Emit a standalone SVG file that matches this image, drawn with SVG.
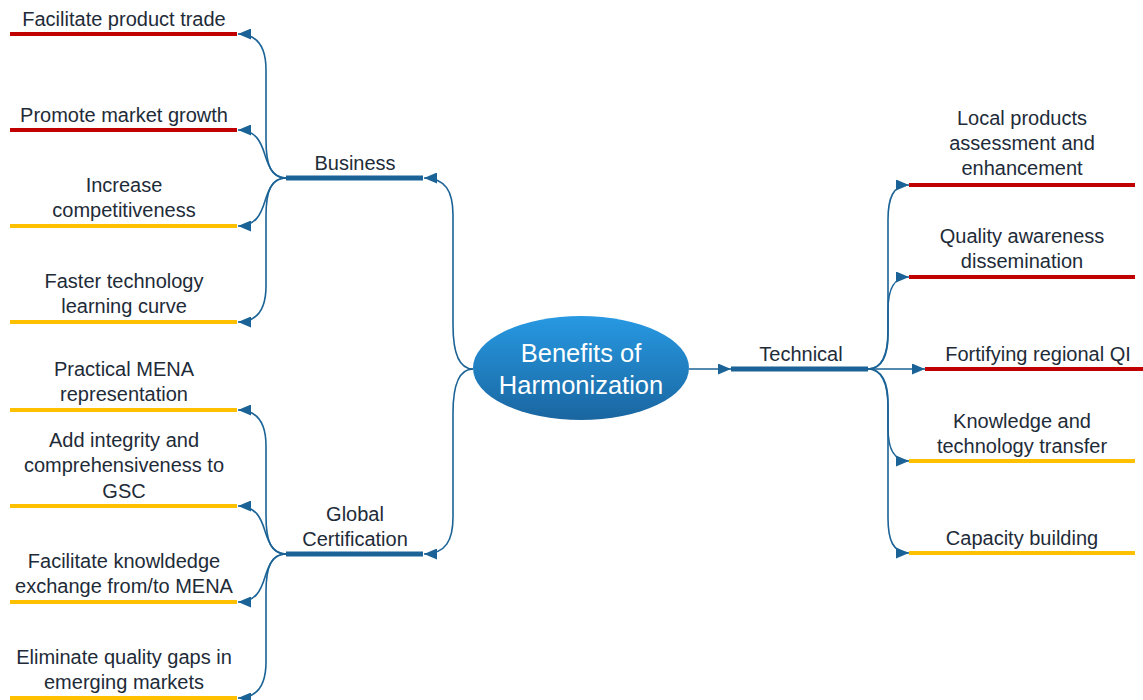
<svg xmlns="http://www.w3.org/2000/svg" width="1143" height="700" viewBox="0 0 1143 700">
<style>
.t{font-family:"Liberation Sans",Arial,sans-serif;font-size:20px;fill:#1e2b38;text-anchor:middle}
.ct{font-family:"Liberation Sans",Arial,sans-serif;font-size:25.5px;fill:#ffffff;text-anchor:middle}
.red{stroke:#c00000;stroke-width:4;fill:none}
.gold{stroke:#ffc000;stroke-width:4;fill:none}
.br{stroke:#1b6396;stroke-width:5;fill:none}
.c{stroke:#1b6396;stroke-width:1.6;fill:none;marker-end:url(#ah)}
</style>
<defs>
<marker id="ah" markerUnits="userSpaceOnUse" markerWidth="13" markerHeight="11" refX="13" refY="5.5" orient="auto">
<path d="M0,0 L13,5.5 L0,11 z" fill="#1b6396"/>
</marker>
<linearGradient id="eg" x1="0" y1="0" x2="0" y2="1">
<stop offset="0" stop-color="#2799e2"/>
<stop offset="1" stop-color="#1a66a0"/>
</linearGradient>
</defs>
<rect width="1143" height="700" fill="#ffffff"/>
<g id="connectors">
<path class="c" d="M473,369 C458,369 453,352 453,325 L453,215 C453,192 446,178 424,178"/>
<path class="c" d="M473,369 C458,369 453,386 453,413 L453,517 C453,540 446,554 424,554"/>
<path class="c" d="M689,369 L731,369"/>
<path class="c" d="M286,178 C271,178 266,165 266,140 L266,70 C266,48 258,34 238,34"/>
<path class="c" d="M286,178 C272,178 268,164 265,155 C261,142 256,130 238,130"/>
<path class="c" d="M286,178 C272,178 268,192 265,201 C261,214 256,226 238,226"/>
<path class="c" d="M286,178 C271,178 266,191 266,216 L266,286 C266,308 258,322 238,322"/>
<path class="c" d="M286,554 C271,554 266,541 266,516 L266,446 C266,424 258,410 238,410"/>
<path class="c" d="M286,554 C272,554 268,540 265,531 C261,518 256,506 238,506"/>
<path class="c" d="M286,554 C272,554 268,568 265,577 C261,590 256,602 238,602"/>
<path class="c" d="M286,554 C271,554 266,567 266,592 L266,662 C266,684 258,698 238,698"/>
<path class="c" d="M868,369 C882,369 888,355 888,330 L888,220 C888,198 893,185 909,185"/>
<path class="c" d="M868,369 C882,369 888,355 888,335 L888,310 C888,290 893,277 909,277"/>
<path class="c" d="M868,369 L925,369"/>
<path class="c" d="M868,369 C882,369 888,383 888,403 L888,428 C888,448 893,461 909,461"/>
<path class="c" d="M868,369 C882,369 888,383 888,408 L888,518 C888,540 893,553 909,553"/>
</g>
<g id="center">
<ellipse cx="581" cy="368" rx="108" ry="52" fill="url(#eg)"/>
<text class="ct" x="581" y="362">Benefits of</text>
<text class="ct" x="581" y="394">Harmonization</text>
</g>
<g id="business">
<line class="br" x1="286" y1="178" x2="423" y2="178"/>
<text class="t" x="355" y="170">Business</text>
</g>
<g id="global-certification">
<line class="br" x1="286" y1="554" x2="423" y2="554"/>
<text class="t" x="355" y="521">Global</text>
<text class="t" x="355" y="546">Certification</text>
</g>
<g id="technical">
<line class="br" x1="731" y1="369" x2="868" y2="369"/>
<text class="t" x="801" y="361">Technical</text>
</g>
<g id="facilitate-product-trade">
<line class="red" x1="10" y1="34" x2="237" y2="34"/>
<text class="t" x="124" y="26">Facilitate product trade</text>
</g>
<g id="promote-market-growth">
<line class="red" x1="10" y1="130" x2="237" y2="130"/>
<text class="t" x="124" y="122">Promote market growth</text>
</g>
<g id="increase-competitiveness">
<line class="gold" x1="10" y1="226" x2="237" y2="226"/>
<text class="t" x="124" y="192">Increase</text>
<text class="t" x="124" y="217">competitiveness</text>
</g>
<g id="faster-technology">
<line class="gold" x1="10" y1="322" x2="237" y2="322"/>
<text class="t" x="124" y="288">Faster technology</text>
<text class="t" x="124" y="313">learning curve</text>
</g>
<g id="practical-mena">
<line class="gold" x1="10" y1="410" x2="237" y2="410"/>
<text class="t" x="124" y="376">Practical MENA</text>
<text class="t" x="124" y="401">representation</text>
</g>
<g id="add-integrity">
<line class="gold" x1="10" y1="506" x2="237" y2="506"/>
<text class="t" x="124" y="447">Add integrity and</text>
<text class="t" x="124" y="472">comprehensiveness to</text>
<text class="t" x="124" y="498">GSC</text>
</g>
<g id="facilitate-knowledge">
<line class="gold" x1="10" y1="602" x2="237" y2="602"/>
<text class="t" x="124" y="568">Facilitate knowldedge</text>
<text class="t" x="124" y="593">exchange from/to MENA</text>
</g>
<g id="eliminate-quality-gaps">
<line class="gold" x1="10" y1="698" x2="237" y2="698"/>
<text class="t" x="124" y="664">Eliminate quality gaps in</text>
<text class="t" x="124" y="689">emerging markets</text>
</g>
<g id="local-products">
<line class="red" x1="909" y1="185" x2="1135" y2="185"/>
<text class="t" x="1022" y="125">Local products</text>
<text class="t" x="1022" y="150">assessment and</text>
<text class="t" x="1022" y="175">enhancement</text>
</g>
<g id="quality-awareness">
<line class="red" x1="909" y1="277" x2="1135" y2="277"/>
<text class="t" x="1022" y="243">Quality awareness</text>
<text class="t" x="1022" y="268">dissemination</text>
</g>
<g id="fortifying-regional-qi">
<line class="red" x1="925" y1="369" x2="1143" y2="369"/>
<text class="t" x="1038" y="361">Fortifying regional QI</text>
</g>
<g id="knowledge-transfer">
<line class="gold" x1="909" y1="461" x2="1135" y2="461"/>
<text class="t" x="1022" y="428">Knowledge and</text>
<text class="t" x="1022" y="453">technology transfer</text>
</g>
<g id="capacity-building">
<line class="gold" x1="909" y1="553" x2="1135" y2="553"/>
<text class="t" x="1022" y="545">Capacity building</text>
</g>
</svg>
